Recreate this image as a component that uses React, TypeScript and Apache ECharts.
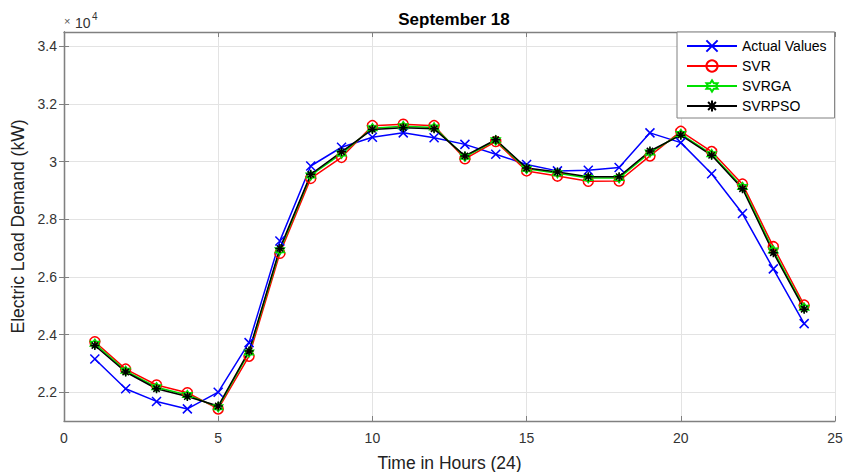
import React, { useEffect, useRef } from "react";
import * as echarts from "echarts";

const hours = [1, 2, 3, 4, 5, 6, 7, 8, 9, 10, 11, 12, 13, 14, 15, 16, 17, 18, 19, 20, 21, 22, 23, 24];
const actualValues = [23150, 22120, 21680, 21420, 22000, 23720, 27250, 29850, 30500, 30850, 31000, 30830, 30600, 30260, 29900, 29680, 29700, 29800, 31000, 30660, 29580, 28200, 26280, 24380];
const svrValues = [23750, 22800, 22250, 21980, 21420, 23250, 26820, 29420, 30150, 31250, 31300, 31250, 30100, 30700, 29680, 29500, 29320, 29330, 30200, 31050, 30350, 29220, 27050, 25020];
const svrgaValues = [23680, 22740, 22170, 21900, 21480, 23380, 26930, 29520, 30280, 31160, 31230, 31190, 30170, 30740, 29750, 29600, 29430, 29430, 30320, 30960, 30260, 29120, 26920, 24930];
const svrpsoValues = [23620, 22700, 22120, 21850, 21520, 23430, 26990, 29560, 30340, 31120, 31180, 31140, 30200, 30760, 29780, 29640, 29480, 29480, 30370, 30920, 30220, 29060, 26840, 24880];
const yTicks = [22000, 24000, 26000, 28000, 30000, 32000, 34000];
const seriesNames = ["Actual Values", "SVR", "SVRGA", "SVRPSO"];

const FONT = "'Liberation Sans', Arial, Helvetica, sans-serif";
const AXIS_COLOR = "#808080";
const LABEL_COLOR = "#333333";

const xSym = "path://M0,0L10,10M10,0L0,10";
const hexSym = "path://M5,0L6.44,2.5L9.33,2.5L7.89,5L9.33,7.5L6.44,7.5L5,10L3.56,7.5L0.67,7.5L2.11,5L0.67,2.5L3.56,2.5Z";
const starSym = "path://M5,0L5,10M0,5L10,5M1.5,1.5L8.5,8.5M8.5,1.5L1.5,8.5";

function pairs(vals: number[]) {
  return hours.map((h, i) => [h, vals[i]]);
}

export default function App() {
  const ref = useRef<HTMLDivElement>(null);
  useEffect(() => {
    document.body.style.margin = "0";
    if (!ref.current) return;
    const chart = echarts.init(ref.current, null, { renderer: "svg" });
    const mk = (name: string, vals: number[], color: string, symbol: string, size: number) => ({
      name,
      type: "line",
      data: pairs(vals),
      symbol,
      symbolSize: size,
      showSymbol: true,
      lineStyle: { color, width: 1.5 },
      itemStyle: { color: "transparent", borderColor: color, borderWidth: 1.5 },
      emphasis: { disabled: true },
    });
    chart.setOption({
      animation: false,
      backgroundColor: "#ffffff",
      title: {
        text: "September 18",
        left: 449,
        top: 6,
        textAlign: "center",
        textStyle: { fontFamily: FONT, fontSize: 17, fontWeight: "bold", color: "#000" },
      },
      grid: { left: 64, top: 32, right: 8, bottom: 51, containLabel: false, outerBoundsMode: "none" },
      legend: {
        data: seriesNames,
        orient: "vertical",
        left: 677,
        top: 32,
        itemWidth: 50,
        itemHeight: 14,
        itemGap: 6,
        padding: [7, 8, 5, 9],
        borderColor: AXIS_COLOR,
        borderWidth: 1,
        borderRadius: 0,
        backgroundColor: "#ffffff",
        textStyle: { fontFamily: FONT, fontSize: 14, color: "#000" },
      },
      xAxis: [
        {
          type: "value",
          min: 0,
          max: 25,
          interval: 5,
          name: "Time in Hours (24)",
          nameLocation: "middle",
          nameGap: 33,
          nameTextStyle: { fontFamily: FONT, fontSize: 17.5, color: "#222" },
          axisLine: { show: true, lineStyle: { color: AXIS_COLOR, width: 1.3 } },
          axisTick: { show: true, inside: true, length: 5, lineStyle: { color: AXIS_COLOR } },
          axisLabel: { fontFamily: FONT, fontSize: 14, color: LABEL_COLOR, margin: 10 },
          splitLine: { show: true, lineStyle: { color: "#e3e3e3", width: 1 } },
        },
        {
          type: "value",
          position: "top",
          min: 0,
          max: 25,
          interval: 5,
          axisLine: { show: true, lineStyle: { color: AXIS_COLOR, width: 1.3 } },
          axisTick: { show: true, inside: true, length: 5, lineStyle: { color: AXIS_COLOR } },
          axisLabel: { show: false },
          splitLine: { show: false },
        },
      ],
      yAxis: [
        {
          type: "value",
          min: 21000,
          max: 34500,
          name: "Electric Load Demand (kW)",
          nameLocation: "middle",
          nameGap: 35,
          nameTextStyle: { fontFamily: FONT, fontSize: 17.5, color: "#222" },
          axisLine: { show: true, lineStyle: { color: AXIS_COLOR, width: 1.3 } },
          axisTick: { show: true, inside: true, length: 5, customValues: yTicks, lineStyle: { color: AXIS_COLOR } },
          axisLabel: {
            fontFamily: FONT,
            fontSize: 14,
            color: LABEL_COLOR,
            margin: 7,
            customValues: yTicks,
            formatter: (v: number) => String(Math.round(v / 1000) / 10),
          },
          splitLine: { show: true, lineStyle: { color: "#e3e3e3", width: 1 } },
        },
        {
          type: "value",
          position: "right",
          min: 21000,
          max: 34500,
          axisLine: { show: true, lineStyle: { color: AXIS_COLOR, width: 1.3 } },
          axisTick: { show: true, inside: true, length: 5, customValues: yTicks, lineStyle: { color: AXIS_COLOR } },
          axisLabel: { show: false, customValues: yTicks },
          splitLine: { show: false },
        },
      ],
      graphic: [
        {
          type: "text",
          left: 64,
          top: 15,
          style: { text: "×", fontFamily: FONT, fontSize: 11, fill: "#555" },
        },
        {
          type: "text",
          left: 75,
          top: 16,
          style: { text: "10", fontFamily: FONT, fontSize: 14, fill: "#333" },
        },
        {
          type: "text",
          left: 92,
          top: 11,
          style: { text: "4", fontFamily: FONT, fontSize: 10, fill: "#333" },
        },
      ],
      series: [
        mk("Actual Values", actualValues, "#0000ff", xSym, 9),
        mk("SVR", svrValues, "#ff0000", "circle", 10),
        mk("SVRGA", svrgaValues, "#00e000", hexSym, 9),
        mk("SVRPSO", svrpsoValues, "#000000", starSym, 9),
      ],
    });
    return () => chart.dispose();
  }, []);
  return <div ref={ref} style={{ width: 843, height: 472, position: "absolute", left: 0, top: 0 }} />;
}
